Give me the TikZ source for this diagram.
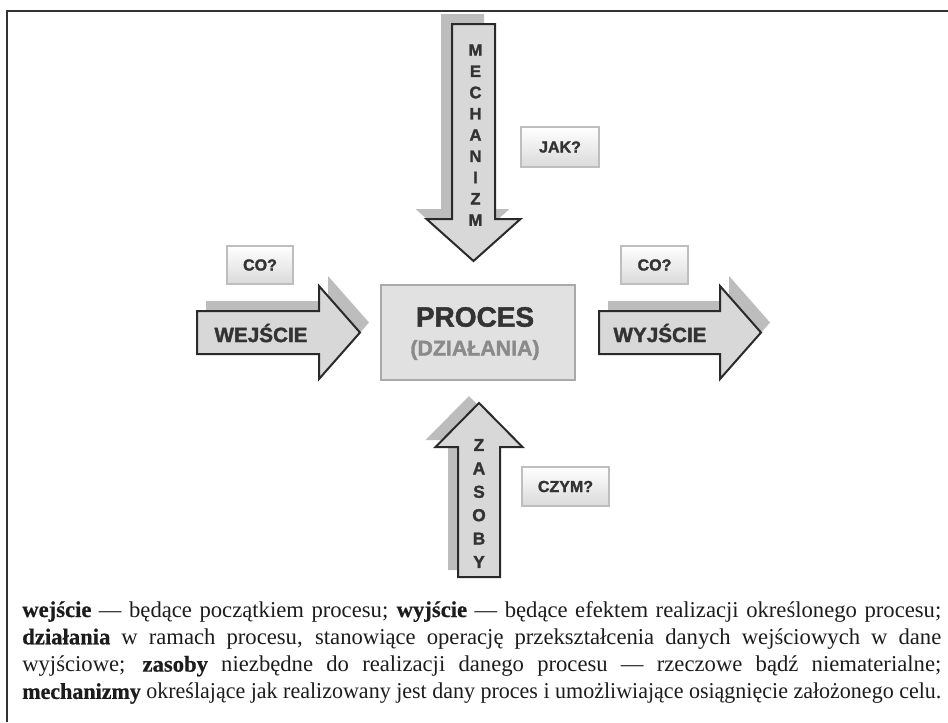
\documentclass[tikz,border=0pt]{standalone}
\usepackage{fontspec}
\usepackage{graphicx}
\setmainfont{Liberation Serif}[BoldFeatures={FakeBold=0.6}]
\newfontfamily\diagfont{Liberation Sans}[BoldFont={Liberation Sans Bold},BoldFeatures={FakeBold=1.6}]

\definecolor{ink}{HTML}{333333}
\definecolor{outline}{HTML}{2A2A2A}
\definecolor{arrowfill}{HTML}{D8D8D8}
\definecolor{shadowgray}{HTML}{BDBDBD}
\definecolor{qborder}{HTML}{BEBEBE}
\definecolor{qbottom}{HTML}{DADADA}
\definecolor{procfill}{HTML}{E1E1E1}
\definecolor{procborder}{HTML}{A9A9A9}
\definecolor{subink}{HTML}{8A8A8A}
\definecolor{bodyink}{HTML}{1C1C1C}

% one justified line of the caption: spread when short, squeezed when long
\newsavebox\capbox
\newlength\capw
\setlength\capw{689.25pt}
\newcommand\capline[1]{\sbox\capbox{#1}%
  \ifdim\wd\capbox>\capw
    \resizebox{\capw}{\height}{\usebox\capbox}%
  \else
    \hbox to \capw{#1}%
  \fi}

\begin{document}
\begin{tikzpicture}[x=0.75pt,y=-0.75pt,
  arrowbody/.style={fill=arrowfill, draw=outline, line width=1.5pt, line join=miter},
  arrowshadow/.style={fill=shadowgray},
  arrowtext/.style={font=\diagfont\bfseries\fontsize{15.5}{18}\selectfont, text=ink, inner sep=0pt},
  stacktext/.style={align=center, text=ink, inner sep=0pt},
  qbox/.style={draw=qborder, line width=0.8pt, top color=white, bottom color=qbottom,
    font=\diagfont\bfseries\fontsize{12}{14}\selectfont, text=ink, inner sep=0pt},
  capnode/.style={anchor=base west, inner sep=0pt, text=bodyink,
    font=\fontsize{17}{20}\selectfont},
  frame/.style={draw=ink, line width=1.5pt}]
\useasboundingbox (0,0) rectangle (948,722);

% outer frame
\draw[frame] (6.5,722) -- (6.5,10.5) -- (948,10.5);

% input arrow (left)
\fill[arrowshadow, shift={(9,-10)}] (197,311) -- (319,311) -- (319,286) -- (360,332.5)
  -- (319,379) -- (319,354) -- (197,354) -- cycle;
\filldraw[arrowbody] (197,311) -- (319,311) -- (319,286) -- (360,332.5)
  -- (319,379) -- (319,354) -- (197,354) -- cycle;
\node[arrowtext] (in) at (261,333) {WEJŚCIE};

% output arrow (right)
\fill[arrowshadow, shift={(9,-10)}] (599,311) -- (720,311) -- (720,286) -- (761,332.5)
  -- (720,379) -- (720,354) -- (599,354) -- cycle;
\filldraw[arrowbody] (599,311) -- (720,311) -- (720,286) -- (761,332.5)
  -- (720,379) -- (720,354) -- (599,354) -- cycle;
\node[arrowtext] (out) at (660,333) {WYJŚCIE};

% mechanism arrow (top, pointing down)
\fill[arrowshadow, shift={(-11,-10)}] (452,24) -- (495,24) -- (495,219) -- (520.5,219)
  -- (473.5,261) -- (426.5,219) -- (452,219) -- cycle;
\filldraw[arrowbody] (452,24) -- (495,24) -- (495,219) -- (520.5,219)
  -- (473.5,261) -- (426.5,219) -- (452,219) -- cycle;
\node[stacktext, font=\diagfont\bfseries\fontsize{12.5}{15.94}\selectfont] (mech) at (475.5,135)
  {M\\E\\C\\H\\A\\N\\I\\Z\\M};

% resources arrow (bottom, pointing up)
\fill[arrowshadow, shift={(-10,-7)}] (458,577) -- (500,577) -- (500,447) -- (522.5,447)
  -- (479,403) -- (435.5,447) -- (458,447) -- cycle;
\filldraw[arrowbody] (458,577) -- (500,577) -- (500,447) -- (522.5,447)
  -- (479,403) -- (435.5,447) -- (458,447) -- cycle;
\node[stacktext, font=\diagfont\bfseries\fontsize{13}{17.55}\selectfont] (res) at (479,503.5)
  {Z\\A\\S\\O\\B\\Y};

% process box
\node[draw=procborder, fill=procfill, line width=0.8pt, minimum width=145.5pt,
  minimum height=71.25pt, inner sep=0pt] (proc) at (478,332.5) {};
\node[font=\diagfont\bfseries\fontsize{21}{24}\selectfont, text=ink, inner sep=0pt]
  (proct) at (475,317) {PROCES};
\node[font=\diagfont\bfseries\fontsize{16}{19}\selectfont, text=subink, inner sep=0pt]
  (procs) at (475,350) {(DZIAŁANIA)};

% question labels
\node[qbox, minimum width=49.5pt, minimum height=28.5pt] (qin) at (260,265) {CO?};
\node[qbox, minimum width=50.25pt, minimum height=28.5pt] (qout) at (654.5,265) {CO?};
\node[qbox, minimum width=58.5pt, minimum height=30pt] (qmech) at (560,147) {JAK?};
\node[qbox, minimum width=65.25pt, minimum height=29.25pt] (qres) at (565.5,486.5) {CZYM?};

% caption
\node[capnode] (cap1) at (22,617) {\capline{\textbf{wejście} — będące początkiem procesu; \textbf{wyjście} — będące efektem realizacji określonego procesu;}};
\node[capnode] (cap2) at (22,644.3) {\capline{\textbf{działania} w ramach procesu, stanowiące operację przekształcenia danych wejściowych w dane}};
\node[capnode] (cap3) at (22,671.6) {\capline{wyjściowe; \textbf{zasoby} niezbędne do realizacji danego procesu — rzeczowe bądź niematerialne;}};
\node[capnode] (cap4) at (22,698.9) {\capline{\textbf{mechanizmy} określające jak realizowany jest dany proces i umożliwiające osiągnięcie założonego celu.}};
\end{tikzpicture}
\end{document}
